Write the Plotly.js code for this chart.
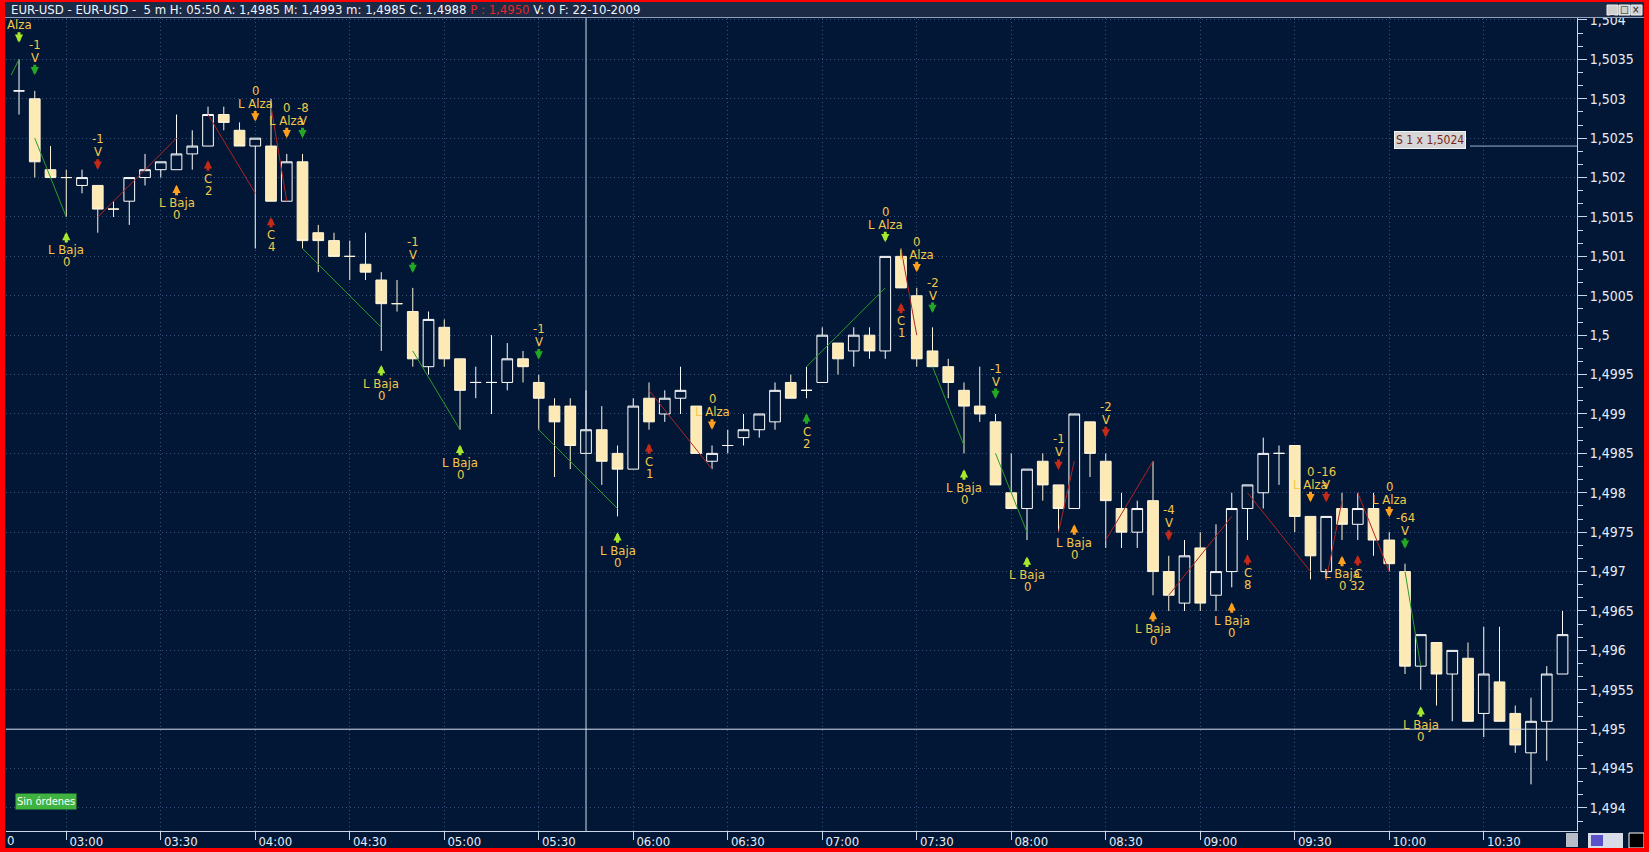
<!DOCTYPE html>
<html><head><meta charset="utf-8">
<script src="https://cdn.plot.ly/plotly-3.0.1.min.js"></script>
<style>
html,body{margin:0;padding:0;background:#ff0000;width:1649px;height:852px;overflow:hidden}
#chart{position:absolute;left:5px;top:2px;width:1639px;height:846px}
</style></head><body><div id="chart"></div>
<script>
const day = '2009-10-22 ';
const times = ['02:45','02:50','02:55','03:00','03:05','03:10','03:15','03:20','03:25','03:30','03:35','03:40','03:45','03:50','03:55','04:00','04:05','04:10','04:15','04:20','04:25','04:30','04:35','04:40','04:45','04:50','04:55','05:00','05:05','05:10','05:15','05:20','05:25','05:30','05:35','05:40','05:45','05:50','05:55','06:00','06:05','06:10','06:15','06:20','06:25','06:30','06:35','06:40','06:45','06:50','06:55','07:00','07:05','07:10','07:15','07:20','07:25','07:30','07:35','07:40','07:45','07:50','07:55','08:00','08:05','08:10','08:15','08:20','08:25','08:30','08:35','08:40','08:45','08:50','08:55','09:00','09:05','09:10','09:15','09:20','09:25','09:30','09:35','09:40','09:45','09:50','09:55','10:00','10:05','10:10','10:15','10:20','10:25','10:30','10:35','10:40','10:45','10:50','10:55'];
const opens = [1.5031,1.5030,1.5021,1.5020,1.5019,1.5019,1.5016,1.5017,1.5020,1.5021,1.5021,1.5023,1.5024,1.5028,1.5026,1.5024,1.5024,1.5017,1.5022,1.5013,1.5012,1.5010,1.5009,1.5007,1.5004,1.5003,1.4996,1.5001,1.4997,1.4994,1.4994,1.4994,1.4997,1.4994,1.4991,1.4991,1.4985,1.4988,1.4985,1.4983,1.4992,1.4990,1.4992,1.4991,1.4984,1.4986,1.4987,1.4988,1.4989,1.4994,1.4993,1.4994,1.4999,1.4998,1.5000,1.4998,1.5010,1.5005,1.4998,1.4996,1.4993,1.4991,1.4989,1.4980,1.4978,1.4984,1.4981,1.4978,1.4989,1.4984,1.4978,1.4975,1.4979,1.4970,1.4966,1.4973,1.4967,1.4970,1.4978,1.4980,1.4985,1.4986,1.4977,1.4970,1.4978,1.4976,1.4978,1.4974,1.4970,1.4958,1.4961,1.4957,1.4959,1.4952,1.4956,1.4952,1.4947,1.4951,1.4957];
const highs = [1.5035,1.5031,1.5024,1.5021,1.5021,1.5019,1.5017,1.5020,1.5023,1.5022,1.5028,1.5026,1.5029,1.5029,1.5027,1.5025,1.5030,1.5023,1.5023,1.5014,1.5013,1.5012,1.5013,1.5008,1.5007,1.5006,1.5003,1.5002,1.4997,1.4996,1.5000,1.4999,1.4998,1.4995,1.4992,1.4992,1.4993,1.4991,1.4986,1.4992,1.4994,1.4993,1.4996,1.4991,1.4986,1.4988,1.4990,1.4990,1.4994,1.4995,1.4996,1.5001,1.4999,1.5001,1.5001,1.5010,1.5011,1.5006,1.5001,1.4997,1.4994,1.4996,1.4990,1.4985,1.4983,1.4985,1.4981,1.4990,1.4989,1.4985,1.4980,1.4979,1.4984,1.4972,1.4974,1.4975,1.4976,1.4980,1.4981,1.4987,1.4986,1.4986,1.4977,1.4977,1.4980,1.4980,1.4980,1.4975,1.4971,1.4962,1.4961,1.4960,1.4961,1.4963,1.4963,1.4953,1.4954,1.4958,1.4965];
const lows = [1.5028,1.5020,1.5020,1.5015,1.5018,1.5013,1.5015,1.5014,1.5019,1.5020,1.5021,1.5021,1.5024,1.5026,1.5024,1.5011,1.5017,1.5017,1.5011,1.5008,1.5010,1.5007,1.5007,1.4998,1.5003,1.4996,1.4995,1.4996,1.4988,1.4992,1.4990,1.4993,1.4994,1.4988,1.4982,1.4983,1.4985,1.4981,1.4977,1.4983,1.4988,1.4989,1.4990,1.4985,1.4983,1.4985,1.4986,1.4987,1.4988,1.4992,1.4992,1.4994,1.4995,1.4996,1.4997,1.4997,1.5006,1.4996,1.4996,1.4992,1.4985,1.4989,1.4981,1.4978,1.4974,1.4979,1.4975,1.4978,1.4982,1.4973,1.4973,1.4973,1.4967,1.4965,1.4965,1.4965,1.4965,1.4968,1.4974,1.4978,1.4981,1.4975,1.4969,1.4969,1.4974,1.4974,1.4972,1.4970,1.4957,1.4955,1.4953,1.4951,1.4951,1.4949,1.4951,1.4947,1.4943,1.4946,1.4957];
const closes = [1.5031,1.5022,1.5020,1.5020,1.5020,1.5016,1.5016,1.5020,1.5021,1.5022,1.5023,1.5024,1.5028,1.5027,1.5024,1.5025,1.5017,1.5022,1.5012,1.5012,1.5010,1.5010,1.5008,1.5004,1.5004,1.4997,1.5002,1.4997,1.4993,1.4994,1.4994,1.4997,1.4996,1.4992,1.4989,1.4986,1.4988,1.4984,1.4983,1.4991,1.4989,1.4992,1.4993,1.4985,1.4985,1.4986,1.4988,1.4990,1.4993,1.4992,1.4993,1.5000,1.4997,1.5000,1.4998,1.5010,1.5006,1.4997,1.4996,1.4994,1.4991,1.4990,1.4981,1.4978,1.4983,1.4981,1.4978,1.4990,1.4985,1.4979,1.4975,1.4978,1.4970,1.4967,1.4972,1.4966,1.4970,1.4978,1.4981,1.4985,1.4985,1.4977,1.4972,1.4977,1.4976,1.4978,1.4974,1.4971,1.4958,1.4962,1.4957,1.4960,1.4951,1.4957,1.4951,1.4948,1.4951,1.4957,1.4962];

// trading signals: time, arrow tip price, direction, colour kind, label lines
const sigTimes = ['02:45','02:50','03:00','03:10','03:35','03:45','04:00','04:05','04:10','04:15','04:50','04:40','05:05','05:30','05:55','06:05','06:25','06:55','07:20','07:25','07:30','07:35','07:45','07:55','08:05','08:15','08:20','08:30','08:45','08:50','09:10','09:15','09:35','09:40','09:45','09:50','10:00','10:05','10:10'];
const sigTips = [1.50371,1.50330,1.50131,1.50210,1.50191,1.50222,1.50271,1.50150,1.50250,1.50250,1.50079,1.49962,1.49861,1.49969,1.49750,1.49863,1.49880,1.49901,1.50118,1.50041,1.50080,1.50028,1.49830,1.49919,1.49719,1.49829,1.49760,1.49870,1.49650,1.49739,1.49661,1.49722,1.49788,1.49788,1.49720,1.49721,1.49769,1.49729,1.49529];
const sigDirs = ['down','down','up','down','up','up','down','up','down','down','down','up','up','down','up','up','down','up','down','up','down','down','up','down','up','down','up','down','up','down','up','up','down','down','up','up','down','down','up'];
const sigKinds = ['lime','green','lime','red','orange','red','orange','red','orange','green','green','lime','lime','green','lime','red','orange','green','lime','red','orange','green','lime','green','lime','red','orange','red','orange','red','orange','red','orange','red','orange','red','orange','green','lime'];
const sigLine1 = ['Alza','V','L Baja','V','L Baja','C','L Alza','C','L Alza','V','V','L Baja','L Baja','V','L Baja','C','L Alza','C','L Alza','C','L Alza','V','L Baja','V','L Baja','V','L Baja','V','L Baja','V','L Baja','C','L Alza','V','L Baja','C','L Alza','V','L Baja'];
const sigLine2 = ['','-1','0','-1','0','2','0','4','0','-8','-1','0','0','-1','0','1','0','2','0','1','0','-2','0','-1','0','-1','0','-2','0','-4','0','8','0','-16','0','32','0','-64','0'];

// trend legs between signals
const legStartTimes = ['02:42:30','02:50','03:10','03:45','04:05','04:15','04:50','05:30','06:05','06:55','07:25','07:35','07:55','08:15','08:30','08:50','09:15','09:40','09:50','10:05'];
const legStartPrices = [1.5033,1.5025,1.5015,1.5028,1.5029,1.5011,1.4998,1.4988,1.4993,1.4996,1.5011,1.4996,1.4985,1.4975,1.4974,1.4967,1.4980,1.4969,1.4980,1.4970];
const legEndTimes = ['02:45','03:00','03:35','04:00','04:10','04:40','05:05','05:55','06:25','07:20','07:30','07:45','08:05','08:20','08:45','09:10','09:35','09:45','10:00','10:10'];
const legEndPrices = [1.5035,1.5015,1.5025,1.5018,1.5017,1.5001,1.4988,1.4978,1.4983,1.5006,1.5000,1.4986,1.4975,1.4984,1.4984,1.4977,1.4970,1.4979,1.4970,1.4958];
const legKinds = ['g','g','r','r','r','g','g','g','r','g','r','g','g','r','r','r','r','r','r','g'];

const orderLevel = 1.5024;
const lastPrice = 1.4950;
const cursorTime = '05:45';

const bg = '#021735';
const grid = '#36527a';
const axisCol = '#c9d6ea';
const F = '"DejaVu Sans Condensed", "DejaVu Sans", sans-serif';
const labelCol = '#f2c84b';
const arrowCols = {green:'#23a823', lime:'#a6e82c', orange:'#ff9f1e', red:'#c42a18'};

const traces = [];
traces.push({
  type:'candlestick',
  x: times.map(t => day + t), open: opens, high: highs, low: lows, close: closes,
  increasing:{line:{color:'#ffffff', width:1}, fillcolor: bg},
  decreasing:{line:{color:'#fff4d6', width:1}, fillcolor:'#fde9b4'},
  whiskerwidth:0, hoverinfo:'skip'
});
['g','r'].forEach(k => {
  const xs = [], ys = [];
  legKinds.forEach((kk, j) => {
    if (kk !== k) return;
    xs.push(day + legStartTimes[j], day + legEndTimes[j], null);
    ys.push(legStartPrices[j], legEndPrices[j], null);
  });
  traces.push({type:'scatter', mode:'lines', x: xs, y: ys, connectgaps:false,
    line:{color: k === 'g' ? '#2c9c2c' : '#b02424', width:1}, hoverinfo:'skip'});
});

const px = v => (v - 6) / 1571, py = v => (831 - v) / 813;
const annotations = [];
sigTimes.forEach((t, k) => {
  const down = sigDirs[k] === 'down';
  annotations.push({x: day + t, y: sigTips[k], xref:'x', yref:'y', text:'', showarrow:true,
    arrowhead:2, arrowsize:0.55, arrowwidth:3, arrowcolor: arrowCols[sigKinds[k]],
    ax:0, ay: down ? -12 : 12, standoff:0});
  annotations.push({x: day + t, y: sigTips[k], xref:'x', yref:'y', text: sigLine1[k], showarrow:false,
    yshift: down ? 18 : -18, font:{family:F, size:13, color:labelCol}});
  if (sigLine2[k]) annotations.push({x: day + t, y: sigTips[k], xref:'x', yref:'y', text: sigLine2[k], showarrow:false,
    yshift: down ? 31 : -30, font:{family:F, size:13, color:labelCol}});
});
// title bar text
annotations.push({xref:'paper', yref:'paper', x: px(9), y: py(10), xanchor:'left', yanchor:'middle', showarrow:false,
  text:'EUR-USD - EUR-USD - &nbsp;5 m H: 05:50 A: 1,4985 M: 1,4993 m: 1,4985 C: 1,4988 <span style="color:#e02828">P : 1,4950</span> V: 0 F: 22-10-2009',
  font:{family:F, size:13, color:'#f0f4fa'}});
// order label
annotations.push({xref:'paper', yref:'y', x: px(1430), y: orderLevel, yshift:6, xanchor:'center', yanchor:'middle', showarrow:false,
  text:'S 1 x 1,5024', bgcolor:'#d6d6d6', bordercolor:'#f2f2f2', borderwidth:1, borderpad:1,
  font:{family:F, size:12, color:'#7a2418'}});
// status box
annotations.push({xref:'paper', yref:'paper', x: px(15), y: py(801), xanchor:'left', yanchor:'middle', showarrow:false,
  text:'Sin órdenes', bgcolor:'#3fb23f', borderpad:1, font:{family:F, size:11, color:'#ffffff'}});
// clipped first time label
annotations.push({xref:'paper', yref:'paper', x: px(5), y: py(840), xanchor:'left', yanchor:'middle', showarrow:false,
  text:'0', font:{family:F, size:13, color:'#e6ecf5'}});
// window buttons glyphs
[['_',1612],['□',1624],['×',1636]].forEach(([g, xx]) => annotations.push({xref:'paper', yref:'paper', x: px(xx), y: py(10),
  xanchor:'center', yanchor:'middle', showarrow:false, text:g, font:{family:F, size:10, color:'#202020'}}));

const shapes = [
  {type:'rect', xref:'paper', yref:'paper', x0:px(5), x1:px(1644), y0:py(18), y1:py(2), fillcolor:'#1c2a46', line:{width:0}},
  {type:'line', xref:'paper', yref:'paper', x0:px(5), x1:px(1644), y0:py(17.5), y1:py(17.5), line:{color:'#8fa3c0', width:1}},
  {type:'line', xref:'paper', yref:'y', x0:0, x1:1, y0:lastPrice, y1:lastPrice, line:{color:'#d4dcea', width:1}, layer:'above'},
  {type:'line', xref:'x', yref:'paper', x0:day + cursorTime, x1:day + cursorTime, y0:0, y1:1, line:{color:'#d4dcea', width:1}, layer:'above'},
  {type:'line', xref:'paper', yref:'y', x0:px(1470), x1:1, y0:orderLevel, y1:orderLevel, line:{color:'#9fb0cc', width:1}, layer:'above'},
  // bottom-right tool icons
  {type:'rect', xref:'paper', yref:'paper', x0:px(1566), x1:px(1578), y0:py(847), y1:py(833), fillcolor:'#b8bcc8', line:{width:0}},
  {type:'rect', xref:'paper', yref:'paper', x0:px(1588), x1:px(1623), y0:py(848), y1:py(833), fillcolor:'#d8dce8', line:{width:0}},
  {type:'rect', xref:'paper', yref:'paper', x0:px(1591), x1:px(1603), y0:py(846), y1:py(835), fillcolor:'#5a52c8', line:{width:0}},
  {type:'rect', xref:'paper', yref:'paper', x0:px(1629), x1:px(1644), y0:py(848), y1:py(833), fillcolor:'#000000', line:{color:'#ffffff', width:1}},
  // window buttons
  {type:'rect', xref:'paper', yref:'paper', x0:px(1607), x1:px(1618), y0:py(15), y1:py(5), fillcolor:'#d0d0d0', line:{color:'#f0f0f0', width:1}},
  {type:'rect', xref:'paper', yref:'paper', x0:px(1619), x1:px(1630), y0:py(15), y1:py(5), fillcolor:'#d0d0d0', line:{color:'#f0f0f0', width:1}},
  {type:'rect', xref:'paper', yref:'paper', x0:px(1631), x1:px(1642), y0:py(15), y1:py(5), fillcolor:'#d0d0d0', line:{color:'#f0f0f0', width:1}}
];

const layout = {
  width:1639, height:846,
  margin:{l:1, r:67, t:16, b:17, pad:0},
  paper_bgcolor:bg, plot_bgcolor:bg,
  separators:',.',
  showlegend:false, hovermode:false, dragmode:false,
  boxgap:0.32, boxgroupgap:0,
  xaxis:{type:'date', range:[day + '02:40:52', day + '10:59:36'], tick0: day + '00:00', dtick:1800000,
    tickformat:'%H:%M', showgrid:true, gridcolor:grid, griddash:'1px,3px', gridwidth:1,
    showline:true, linecolor:axisCol, linewidth:1, ticks:'outside', ticklen:8, tickcolor:axisCol,
    tickfont:{family:F, size:13, color:'#e6ecf5'}, ticklabelshift:20, ticklabelstandoff:-10,
    rangeslider:{visible:false}, zeroline:false, fixedrange:true},
  yaxis:{side:'right', range:[1.493708, 1.504025], tick0:1.494, dtick:0.0005, tickformat:'.4~f',
    showgrid:true, gridcolor:grid, griddash:'1px,3px', gridwidth:1,
    showline:true, linecolor:axisCol, linewidth:1, ticks:'outside', ticklen:9, tickcolor:axisCol,
    tickfont:{family:F, size:14, color:'#e6ecf5'},
    minor:{tick0:1.494, dtick:0.0005/3, ticks:'outside', ticklen:5, tickcolor:axisCol, showgrid:false},
    zeroline:false, fixedrange:true},
  shapes, annotations
};
Plotly.newPlot('chart', traces, layout, {staticPlot:true, displayModeBar:false});
</script></body></html>
